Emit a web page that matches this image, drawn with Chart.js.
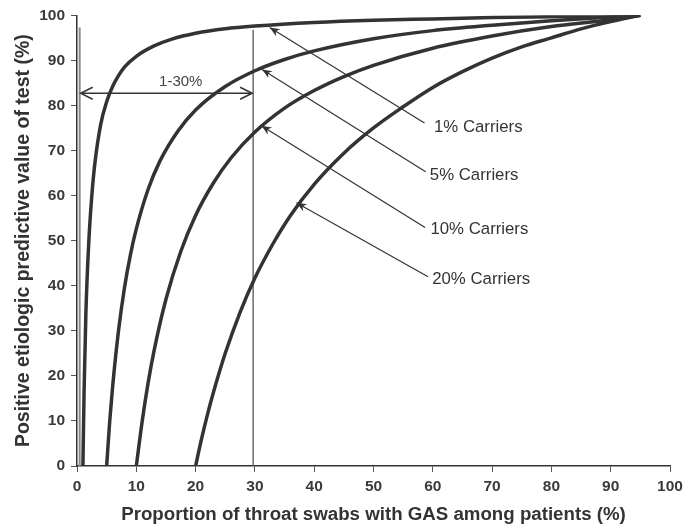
<!DOCTYPE html>
<html>
<head>
<meta charset="utf-8">
<script src="https://cdn.jsdelivr.net/npm/chart.js@4.4.0/dist/chart.umd.min.js"></script>
<style>
  html, body { margin: 0; padding: 0; background: #fff; }
</style>
</head>
<body>
<canvas id="myChart" width="697" height="528"></canvas>
<script>
// values (x = % of swabs with GAS, y = PPV %)
const carriers1X = [1, 1.2, 1.5, 2, 2.5, 3, 4, 5, 6, 7, 8, 10, 13, 16, 20, 25, 30, 40, 50, 60, 70, 80, 95];
const carriers1Y = [0, 17, 34, 50, 60, 67, 75.8, 80.8, 84.2, 86.6, 88.5, 90.9, 93.2, 94.7, 96, 97, 97.6, 98.4, 98.9, 99.2, 99.5, 99.7, 100];

const carriers5X = [5, 5.5, 6, 7, 8, 9, 10, 12, 14, 17, 20, 25, 30, 35, 40, 50, 60, 70, 80, 95];
const carriers5Y = [0, 9.6, 17.5, 30, 39.5, 46.8, 52.6, 61.4, 67.7, 74.3, 79, 84.2, 87.7, 90.2, 92.1, 94.8, 96.6, 97.8, 98.8, 100];

const carriers10X = [10, 11, 12, 13, 15, 17.5, 20, 23, 26, 30, 35, 40, 45, 50, 60, 70, 80, 90, 95];
const carriers10Y = [0, 10, 18.5, 25.6, 37, 47.6, 55.6, 62.8, 68.4, 74.1, 79.4, 83.3, 86.4, 88.9, 92.7, 95.4, 97.5, 99, 100];

const carriers20X = [20, 21, 22, 23, 25, 27.5, 30, 33, 36, 40, 45, 50, 55, 60, 65, 70, 75, 80, 85, 90, 95];
const carriers20Y = [0, 6, 11.4, 16.3, 25, 34.1, 41.7, 49.2, 55.6, 62.5, 69.4, 75, 79.7, 84, 87.5, 90.5, 93, 95, 97, 98.6, 100];

const xTicks = [0, 10, 20, 30, 40, 50, 60, 70, 80, 90, 100];
const yTicks = [0, 10, 20, 30, 40, 50, 60, 70, 80, 90, 100];

// annotations, in data units
const guideX = [0.45, 29.7];
const guideTop = [97.3, 96.8];
const spanY = 82.7;
const spanLabel = ['1-30%', 17.5, 85.2];

const noteLabels = ['1% Carriers', '5% Carriers', '10% Carriers', '20% Carriers'];
const noteTipX = [32.5, 31.2, 31.1, 37.0];
const noteTipY = [97.3, 88.0, 75.5, 58.4];
const noteEndX = [58.6, 58.8, 58.7, 59.2];
const noteEndY = [76.1, 65.3, 52.9, 42.0];
const noteTextX = [60.2, 59.5, 59.6, 59.9];
const noteTextY = [75.2, 64.4, 52.6, 41.3];

const ink = '#333333';
const fontFam = 'Arial, "Liberation Sans", Helvetica, sans-serif';

function pts(xs, ys) {
  return xs.map((v, i) => ({x: v, y: ys[i]}));
}

function curve(label, xs, ys) {
  return {
    label: label,
    data: pts(xs, ys),
    showLine: true,
    borderColor: ink,
    borderWidth: 3.5,
    pointRadius: 0,
    cubicInterpolationMode: 'monotone',
    fill: false
  };
}

function chevron(ctx, x0, y0, dir) {
  ctx.beginPath();
  ctx.moveTo(x0 + dir * 12, y0 - 6);
  ctx.lineTo(x0, y0);
  ctx.lineTo(x0 + dir * 12, y0 + 6);
  ctx.stroke();
}

const guides = {
  id: 'guides',
  beforeDatasetsDraw(chart) {
    const {ctx, scales: {x, y}} = chart;
    ctx.save();
    // vertical guide lines
    ctx.strokeStyle = '#8a8a8a';
    ctx.lineWidth = 2;
    ctx.beginPath();
    ctx.moveTo(x.getPixelForValue(guideX[0]), y.getPixelForValue(0));
    ctx.lineTo(x.getPixelForValue(guideX[0]), y.getPixelForValue(guideTop[0]));
    ctx.stroke();
    ctx.strokeStyle = '#555';
    ctx.lineWidth = 1.3;
    ctx.beginPath();
    ctx.moveTo(x.getPixelForValue(guideX[1]), y.getPixelForValue(0));
    ctx.lineTo(x.getPixelForValue(guideX[1]), y.getPixelForValue(guideTop[1]));
    ctx.stroke();

    // double arrow 1-30%
    const ax0 = x.getPixelForValue(guideX[0]) + 1;
    const ax1 = x.getPixelForValue(guideX[1]) - 1;
    const ay = y.getPixelForValue(spanY);
    ctx.strokeStyle = ink;
    ctx.lineWidth = 1.5;
    ctx.beginPath();
    ctx.moveTo(ax0, ay);
    ctx.lineTo(ax1, ay);
    ctx.stroke();
    chevron(ctx, ax0, ay, 1);
    chevron(ctx, ax1, ay, -1);

    ctx.fillStyle = '#444';
    ctx.font = '15px ' + fontFam;
    ctx.textAlign = 'center';
    ctx.textBaseline = 'middle';
    ctx.fillText(spanLabel[0], x.getPixelForValue(spanLabel[1]), y.getPixelForValue(spanLabel[2]));
    ctx.restore();
  },
  afterDatasetsDraw(chart) {
    const {ctx, scales: {x, y}} = chart;
    ctx.save();
    ctx.strokeStyle = ink;
    ctx.fillStyle = ink;
    ctx.lineWidth = 1.2;
    noteLabels.forEach((lab, i) => {
      const tx = x.getPixelForValue(noteTipX[i]), ty = y.getPixelForValue(noteTipY[i]);
      const ex = x.getPixelForValue(noteEndX[i]), ey = y.getPixelForValue(noteEndY[i]);
      const ang = Math.atan2(ey - ty, ex - tx);
      ctx.beginPath();
      ctx.moveTo(ex, ey);
      ctx.lineTo(tx, ty);
      ctx.stroke();
      // arrow head
      ctx.beginPath();
      ctx.moveTo(tx, ty);
      ctx.lineTo(tx + 10 * Math.cos(ang) - 4 * Math.sin(ang), ty + 10 * Math.sin(ang) + 4 * Math.cos(ang));
      ctx.lineTo(tx + 7 * Math.cos(ang), ty + 7 * Math.sin(ang));
      ctx.lineTo(tx + 10 * Math.cos(ang) + 4 * Math.sin(ang), ty + 10 * Math.sin(ang) - 4 * Math.cos(ang));
      ctx.closePath();
      ctx.fill();

      ctx.font = '16.8px ' + fontFam;
      ctx.textAlign = 'left';
      ctx.textBaseline = 'middle';
      ctx.fillText(lab, x.getPixelForValue(noteTextX[i]), y.getPixelForValue(noteTextY[i]));
    });
    ctx.restore();
  }
};

var ctx = document.getElementById('myChart');
var myChart = new Chart(ctx, {
  type: 'scatter',
  data: {
    datasets: [
      curve('1% Carriers', carriers1X, carriers1Y),
      curve('5% Carriers', carriers5X, carriers5Y),
      curve('10% Carriers', carriers10X, carriers10Y),
      curve('20% Carriers', carriers20X, carriers20Y)
    ]
  },
  options: {
    responsive: false,
    animation: false,
    devicePixelRatio: 1,
    layout: { padding: { top: 15, right: 27, left: 0, bottom: 0 } },
    plugins: {
      legend: { display: false },
      tooltip: { enabled: false }
    },
    scales: {
      x: {
        type: 'linear',
        min: 0,
        max: 100,
        afterBuildTicks: (s) => { s.ticks = xTicks.map(v => ({value: v})); },
        afterFit: (s) => { s.height = 62; },
        grid: { drawOnChartArea: false, color: '#555', tickLength: 6, tickWidth: 1 },
        border: { color: ink, width: 1.5 },
        ticks: { color: '#3a3a3a', padding: 5, font: { family: fontFam, size: 15.5, weight: 'bold' } },
        title: {
          display: true,
          text: 'Proportion of throat swabs with GAS among patients (%)',
          color: ink,
          font: { family: fontFam, size: 18.7, weight: 'bold' },
          padding: { top: 0, bottom: 1.5 }
        }
      },
      y: {
        type: 'linear',
        min: 0,
        max: 100,
        afterBuildTicks: (s) => { s.ticks = yTicks.map(v => ({value: v})); },
        afterFit: (s) => { s.width = 77; },
        grid: { drawOnChartArea: false, color: '#555', tickLength: 6, tickWidth: 1 },
        border: { color: ink, width: 1.5 },
        ticks: { color: '#3a3a3a', padding: 6, font: { family: fontFam, size: 15.5, weight: 'bold' } },
        title: {
          display: true,
          text: 'Positive etiologic predictive value of test (%)',
          color: ink,
          font: { family: fontFam, size: 19.5, weight: 'bold' },
          padding: { top: 12.3, bottom: 0 }
        }
      }
    }
  },
  plugins: [guides]
});
</script>
</body>
</html>
